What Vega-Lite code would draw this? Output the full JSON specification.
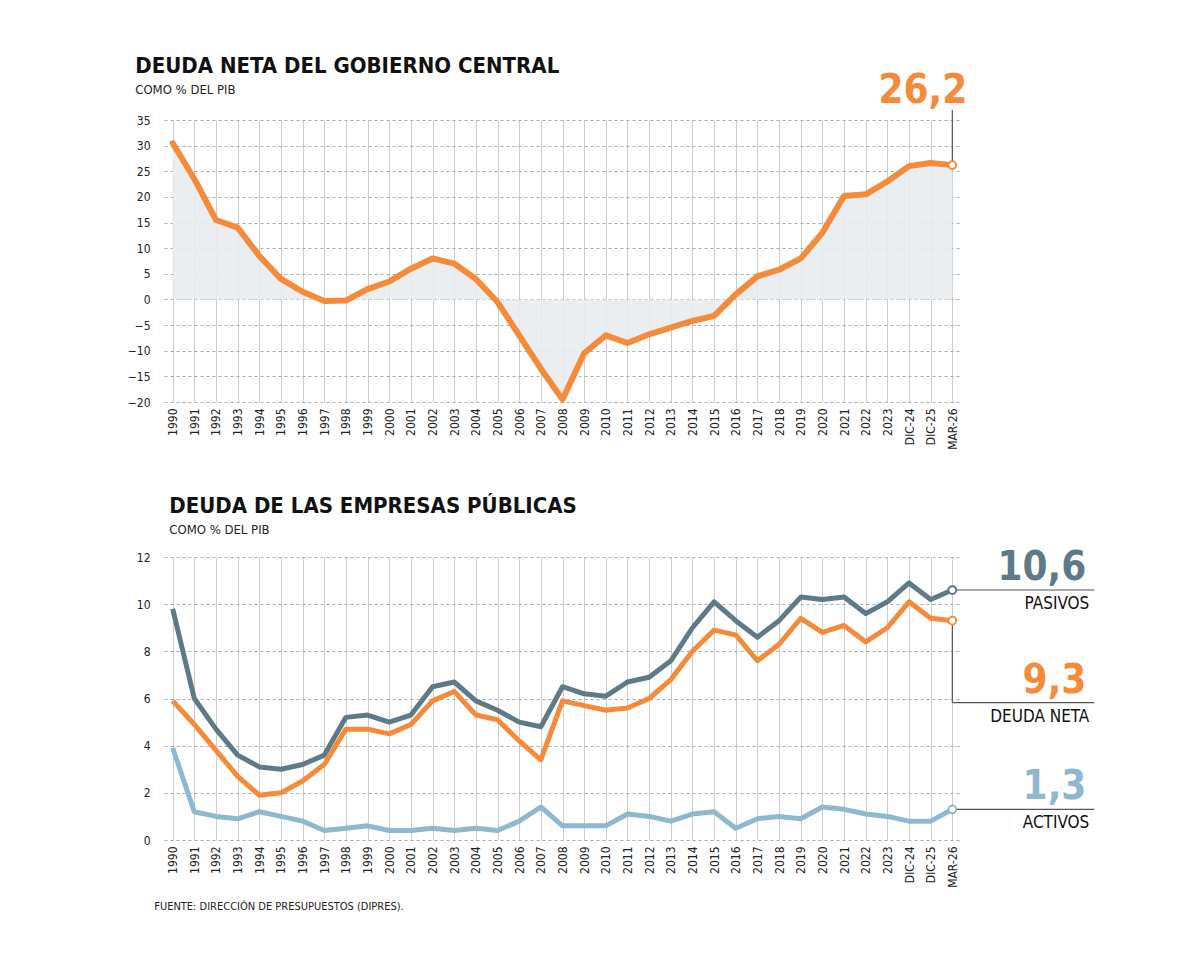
{
"$schema":"https://vega.github.io/schema/vega-lite/v6.json",
"background":"white",
"padding":{"left":127,"top":55,"right":10,"bottom":10},
"spacing":45,
"title":{"text":"FUENTE: DIRECCIÓN DE PRESUPUESTOS (DIPRES).","orient":"bottom","anchor":"start","fontSize":11,"font":"DejaVu Sans Condensed","fontWeight":"normal","color":"#222","dx":27,"offset":14},
"config":{"view":{"stroke":null},"font":"DejaVu Sans Condensed",
"axis":{"labelFont":"DejaVu Sans Condensed","labelFontSize":12,"labelColor":"#222","domain":false,"ticks":false,"title":null,"gridColor":"#aaa","labelOverlap":false},
"title":{"anchor":"start","font":"DejaVu Sans Condensed","fontSize":22,"fontWeight":"bold","color":"#111","subtitleFont":"DejaVu Sans Condensed","subtitleFontSize":13,"subtitleColor":"#222","subtitlePadding":6}},
"datasets":{
"top":[
{"a":"1990","v":30.5},{"a":"1991","v":23.5},{"a":"1992","v":15.5},{"a":"1993","v":14},{"a":"1994","v":8.5},{"a":"1995","v":4},{"a":"1996","v":1.5},{"a":"1997","v":-0.3},{"a":"1998","v":-0.2},{"a":"1999","v":2},{"a":"2000","v":3.5},{"a":"2001","v":6},{"a":"2002","v":8},{"a":"2003","v":7},{"a":"2004","v":4},{"a":"2005","v":-0.5},{"a":"2006","v":-7},{"a":"2007","v":-13.5},{"a":"2008","v":-19.5},{"a":"2009","v":-10.5},{"a":"2010","v":-7},{"a":"2011","v":-8.5},{"a":"2012","v":-6.8},{"a":"2013","v":-5.5},{"a":"2014","v":-4.2},{"a":"2015","v":-3.2},{"a":"2016","v":1},{"a":"2017","v":4.5},{"a":"2018","v":5.8},{"a":"2019","v":8},{"a":"2020","v":13},{"a":"2021","v":20.2},{"a":"2022","v":20.5},{"a":"2023","v":23},{"a":"DIC-24","v":26},{"a":"DIC-25","v":26.6},{"a":"MAR-26","v":26.2}],
"bot":[
{"a":"1990","p":9.8,"d":5.9,"c":3.9},{"a":"1991","p":6,"d":4.9,"c":1.2},{"a":"1992","p":4.7,"d":3.8,"c":1.0},{"a":"1993","p":3.6,"d":2.7,"c":0.9},{"a":"1994","p":3.1,"d":1.9,"c":1.2},{"a":"1995","p":3.0,"d":2.0,"c":1.0},{"a":"1996","p":3.2,"d":2.5,"c":0.8},{"a":"1997","p":3.6,"d":3.2,"c":0.4},{"a":"1998","p":5.2,"d":4.7,"c":0.5},{"a":"1999","p":5.3,"d":4.7,"c":0.6},{"a":"2000","p":5.0,"d":4.5,"c":0.4},{"a":"2001","p":5.3,"d":4.9,"c":0.4},{"a":"2002","p":6.5,"d":5.9,"c":0.5},{"a":"2003","p":6.7,"d":6.3,"c":0.4},{"a":"2004","p":5.9,"d":5.3,"c":0.5},{"a":"2005","p":5.5,"d":5.1,"c":0.4},{"a":"2006","p":5.0,"d":4.2,"c":0.8},{"a":"2007","p":4.8,"d":3.4,"c":1.4},{"a":"2008","p":6.5,"d":5.9,"c":0.6},{"a":"2009","p":6.2,"d":5.7,"c":0.6},{"a":"2010","p":6.1,"d":5.5,"c":0.6},{"a":"2011","p":6.7,"d":5.6,"c":1.1},{"a":"2012","p":6.9,"d":6.0,"c":1.0},{"a":"2013","p":7.6,"d":6.8,"c":0.8},{"a":"2014","p":9.0,"d":8.0,"c":1.1},{"a":"2015","p":10.1,"d":8.9,"c":1.2},{"a":"2016","p":9.3,"d":8.7,"c":0.5},{"a":"2017","p":8.6,"d":7.6,"c":0.9},{"a":"2018","p":9.3,"d":8.3,"c":1.0},{"a":"2019","p":10.3,"d":9.4,"c":0.9},{"a":"2020","p":10.2,"d":8.8,"c":1.4},{"a":"2021","p":10.3,"d":9.1,"c":1.3},{"a":"2022","p":9.6,"d":8.4,"c":1.1},{"a":"2023","p":10.1,"d":9.0,"c":1.0},{"a":"DIC-24","p":10.9,"d":10.1,"c":0.8},{"a":"DIC-25","p":10.2,"d":9.4,"c":0.8},{"a":"MAR-26","p":10.6,"d":9.3,"c":1.3}]
},
"vconcat":[
{"title":{"text":"DEUDA NETA DEL GOBIERNO CENTRAL","subtitle":"COMO % DEL PIB","dx":8,"offset":-27},
"width":797,"height":282,
"data":{"name":"top"},
"encoding":{"x":{"field":"a","type":"ordinal","sort":null,"scale":{"type":"point","padding":0.4},"axis":{"labelAngle":-90,"grid":true,"gridColor":"#ccc","labelPadding":6}},
"y":{"field":"v","type":"quantitative","scale":{"domain":[-20,35],"nice":false},"axis":{"values":[-20,-15,-10,-5,0,5,10,15,20,25,30,35],"labelOverlap":false,"grid":true,"gridDash":[3,3],"labelPadding":14}}},
"layer":[
{"mark":{"type":"area","color":"#E8ECEE","opacity":0.9},"encoding":{"y2":{"datum":0}}},
{"mark":{"type":"rule","color":"#111","strokeWidth":1},"encoding":{"y":{"datum":0,"type":"quantitative","axis":{"values":[-20,-15,-10,-5,0,5,10,15,20,25,30,35],"labelOverlap":false,"grid":true,"gridDash":[3,3],"labelPadding":14}}}},
{"mark":{"type":"line","color":"#F58A3A","strokeWidth":6,"strokeJoin":"round","strokeCap":"round"}},
{"transform":[{"filter":"datum.a=='MAR-26'"}],"mark":{"type":"rule","color":"#555","strokeWidth":1.2,"y2Offset":-55},"encoding":{"y2":{"field":"v"}}},
{"transform":[{"filter":"datum.a=='MAR-26'"}],"mark":{"type":"point","filled":true,"fill":"white","stroke":"#F58A3A","strokeWidth":2,"size":60,"opacity":1}},
{"transform":[{"filter":"datum.a=='MAR-26'"}],"mark":{"type":"text","text":"26,2","align":"right","dx":15,"dy":-54,"baseline":"bottom","fontSize":40,"fontWeight":"bold","color":"#F58A3A"}}
]},
{"title":{"text":"DEUDA DE LAS EMPRESAS PÚBLICAS","subtitle":"COMO % DEL PIB","offset":10,"dx":33},
"width":797,"height":283,
"data":{"name":"bot"},
"encoding":{"x":{"field":"a","type":"ordinal","sort":null,"scale":{"type":"point","padding":0.4},"axis":{"labelAngle":-90,"grid":true,"gridColor":"#ccc","labelPadding":6}}},
"layer":[
{"mark":{"type":"rule","color":"#111","strokeWidth":1},"encoding":{"y":{"datum":0,"type":"quantitative","scale":{"domain":[0,12],"nice":false},"axis":{"values":[0,2,4,6,8,10,12],"grid":true,"gridDash":[3,3],"labelPadding":14}}}},
{"mark":{"type":"line","color":"#8DB8D0","strokeWidth":5,"strokeJoin":"round"},"encoding":{"y":{"field":"c","type":"quantitative"}}},
{"mark":{"type":"line","color":"#F58A3A","strokeWidth":5,"strokeJoin":"round"},"encoding":{"y":{"field":"d","type":"quantitative"}}},
{"mark":{"type":"line","color":"#5F7A87","strokeWidth":5,"strokeJoin":"round"},"encoding":{"y":{"field":"p","type":"quantitative"}}},
{"transform":[{"filter":"datum.a=='MAR-26'"}],"layer":[
{"mark":{"type":"rule","color":"#555","strokeWidth":1.2,"x2Offset":142},"encoding":{"x2":{"field":"a"},"y":{"field":"p","type":"quantitative"}}},
{"mark":{"type":"rule","color":"#555","strokeWidth":1.2,"x2Offset":142},"encoding":{"x2":{"field":"a"},"y":{"field":"c","type":"quantitative"}}},
{"mark":{"type":"rule","color":"#555","strokeWidth":1.2,"y2Offset":82},"encoding":{"y":{"field":"d","type":"quantitative"},"y2":{"field":"d"}}},
{"mark":{"type":"rule","color":"#555","strokeWidth":1.2,"x2Offset":142,"yOffset":82},"encoding":{"x2":{"field":"a"},"y":{"field":"d","type":"quantitative"}}},
{"mark":{"type":"point","filled":true,"fill":"white","stroke":"#5F7A87","strokeWidth":2,"size":60,"opacity":1},"encoding":{"y":{"field":"p","type":"quantitative"}}},
{"mark":{"type":"point","filled":true,"fill":"white","stroke":"#F58A3A","strokeWidth":2,"size":60,"opacity":1},"encoding":{"y":{"field":"d","type":"quantitative"}}},
{"mark":{"type":"point","filled":true,"fill":"white","stroke":"#8DB8D0","strokeWidth":2,"size":60,"opacity":1},"encoding":{"y":{"field":"c","type":"quantitative"}}},
{"mark":{"type":"text","text":"10,6","align":"right","dx":134,"dy":-2,"baseline":"bottom","fontSize":40,"fontWeight":"bold","color":"#5F7A87"},"encoding":{"y":{"field":"p","type":"quantitative"}}},
{"mark":{"type":"text","text":"PASIVOS","align":"right","dx":137,"dy":6,"baseline":"top","fontSize":17,"color":"#111"},"encoding":{"y":{"field":"p","type":"quantitative"}}},
{"mark":{"type":"text","text":"9,3","align":"right","dx":134,"dy":80,"baseline":"bottom","fontSize":40,"fontWeight":"bold","color":"#F58A3A"},"encoding":{"y":{"field":"d","type":"quantitative"}}},
{"mark":{"type":"text","text":"DEUDA NETA","align":"right","dx":137,"dy":88,"baseline":"top","fontSize":17,"color":"#111"},"encoding":{"y":{"field":"d","type":"quantitative"}}},
{"mark":{"type":"text","text":"1,3","align":"right","dx":134,"dy":-2,"baseline":"bottom","fontSize":40,"fontWeight":"bold","color":"#8DB8D0"},"encoding":{"y":{"field":"c","type":"quantitative"}}},
{"mark":{"type":"text","text":"ACTIVOS","align":"right","dx":137,"dy":6,"baseline":"top","fontSize":17,"color":"#111"},"encoding":{"y":{"field":"c","type":"quantitative"}}}
]}
]}
]}
